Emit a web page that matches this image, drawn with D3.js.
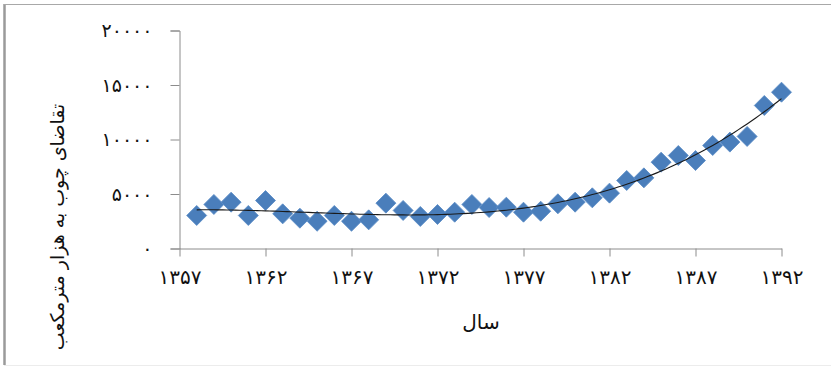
<!DOCTYPE html>
<html>
<head>
<meta charset="utf-8">
<script src="https://cdn.jsdelivr.net/npm/d3@7/dist/d3.min.js"></script>
<style>
  html, body { margin: 0; padding: 0; background: #fff; }
  svg { display: block; }
  text { font-family: "DejaVu Sans", sans-serif; fill: #111; }
</style>
</head>
<body>
<svg id="chart" width="831" height="368"></svg>
<script>
// Annual wood demand (thousand cubic metres), years 1358–1392 (Solar Hijri)
const years = [
  1358, 1359, 1360, 1361, 1362, 1363, 1364, 1365, 1366, 1367, 1368, 1369,
  1370, 1371, 1372, 1373, 1374, 1375, 1376, 1377, 1378, 1379, 1380, 1381,
  1382, 1383, 1384, 1385, 1386, 1387, 1388, 1389, 1390, 1391, 1392
];
const demand = [
  3030, 4040, 4250, 3030, 4400, 3180, 2780, 2500, 3030, 2500, 2630, 4160,
  3490, 2940, 3120, 3330, 4040, 3760, 3790, 3330, 3420, 4100, 4250, 4650,
  5080, 6240, 6480, 7920, 8530, 8070, 9450, 9760, 10280, 13120, 14340
];
const xTicks = [1357, 1362, 1367, 1372, 1377, 1382, 1387, 1392];
const yTicks = [0, 5000, 10000, 15000, 20000];
const xTitle = "سال";
const yTitle = "تقاضای چوب به هزار مترمکعب";

// Persian digits for tick labels
const faDigits = "۰۱۲۳۴۵۶۷۸۹";
const toFa = n => String(n).replace(/\d/g, d => faDigits[+d]);

const svg = d3.select("#chart");

// outer frame
svg.append("line").attr("x1", 4.5).attr("x2", 4.5).attr("y1", 4).attr("y2", 365)
  .attr("stroke", "#9a9a9a").attr("stroke-width", 2.5);
svg.append("line").attr("x1", 4).attr("x2", 831).attr("y1", 4.5).attr("y2", 4.5)
  .attr("stroke", "#a8a8a8").attr("stroke-width", 1);
svg.append("line").attr("x1", 4).attr("x2", 831).attr("y1", 365.5).attr("y2", 365.5)
  .attr("stroke", "#ececec").attr("stroke-width", 1);

const x = d3.scaleLinear().domain([1357, 1392]).range([179.5, 781.5]);
const y = d3.scaleLinear().domain([0, 20000]).range([248.5, 30.5]);

// y axis
const yAxis = svg.append("g").attr("transform", `translate(${x(1357)},0)`)
  .call(d3.axisLeft(y).tickValues(yTicks).tickSize(9).tickPadding(18).tickFormat(toFa));
yAxis.select(".domain").attr("stroke", "#8c8c8c");
yAxis.selectAll(".tick line").attr("stroke", "#8c8c8c");
yAxis.selectAll(".tick text").style("font-size", "19px").style("letter-spacing", "4px")
  .attr("fill", "#111");

// x axis
const xAxis = svg.append("g").attr("transform", `translate(0,${y(0)})`)
  .call(d3.axisBottom(x).tickValues(xTicks).tickSize(8).tickSizeOuter(0).tickPadding(13).tickFormat(toFa));
xAxis.select(".domain").attr("stroke", "#8c8c8c");
xAxis.selectAll(".tick line").attr("stroke", "#8c8c8c");
xAxis.selectAll(".tick text").style("font-size", "20px").style("letter-spacing", "3px")
  .attr("fill", "#111");

// cubic least-squares trend of demand over the years
const x0 = 1375;
function polyFit(xs, ys, deg) {
  const n = deg + 1;
  const A = Array.from({length: n}, () => new Array(n + 1).fill(0));
  xs.forEach((xv, k) => {
    const t = xv - x0;
    for (let i = 0; i < n; i++) {
      for (let j = 0; j < n; j++) A[i][j] += Math.pow(t, i + j);
      A[i][n] += ys[k] * Math.pow(t, i);
    }
  });
  for (let c = 0; c < n; c++) {
    let p = c;
    for (let r = c + 1; r < n; r++) if (Math.abs(A[r][c]) > Math.abs(A[p][c])) p = r;
    [A[c], A[p]] = [A[p], A[c]];
    for (let r = 0; r < n; r++) {
      if (r === c) continue;
      const f = A[r][c] / A[c][c];
      for (let j = c; j <= n; j++) A[r][j] -= f * A[c][j];
    }
  }
  return A.map((row, i) => row[n] / row[i]);
}
const coef = polyFit(years, demand, 3);
const trend = t => coef.reduce((s, c, i) => s + c * Math.pow(t - x0, i), 0);
const trendPts = d3.range(years[0], years[years.length - 1] + 0.001, 0.25)
  .map(t => [t, trend(t)]);

// markers
svg.append("g").selectAll("path").data(years).join("path")
  .attr("d", d3.symbol().type(d3.symbolSquare).size(200))
  .attr("transform", (d, i) => `translate(${x(d)},${y(demand[i])}) rotate(45)`)
  .attr("fill", "#4a7ebb")
  .attr("stroke", "#5b8cc6").attr("stroke-width", 0.8);

svg.append("path").datum(trendPts)
  .attr("d", d3.line().x(d => x(d[0])).y(d => y(d[1])).curve(d3.curveLinear))
  .attr("fill", "none").attr("stroke", "#1a1a1a").attr("stroke-width", 1.1);

// axis titles
svg.append("text").attr("x", 481).attr("y", 329).attr("text-anchor", "middle")
  .attr("direction", "rtl").style("font-size", "20px").text(xTitle);
svg.append("text").attr("transform", "translate(64,227) rotate(-90)")
  .attr("text-anchor", "middle").attr("direction", "rtl")
  .style("font-size", "19px").text(yTitle);
</script>
</body>
</html>
